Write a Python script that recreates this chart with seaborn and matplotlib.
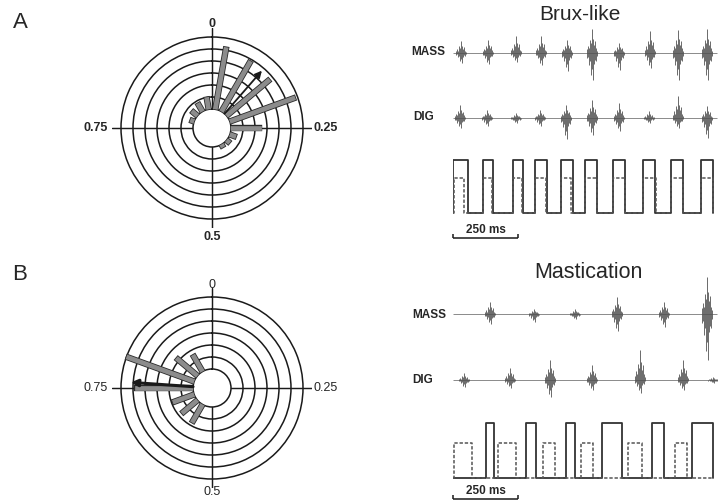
import numpy as np
import matplotlib.pyplot as plt
import matplotlib.patheffects as pe
import seaborn as sns

sns.set_theme(style="white")
plt.rcParams["font.family"] = ["Liberation Sans", "DejaVu Sans"]

W, H = 724, 501

# phase histograms (18 bins of 20 deg, bin centres in degrees)
bin_deg = [10, 30, 50, 70, 90, 110, 130, 150, 170, 190, 210, 230, 250, 270, 290, 310, 330, 350]
brux_counts = [5.05, 4.65, 4.5, 5.6, 2.3, 0.35, 0.15, 0.08, 0, 0, 0, 0, 0, 0, 0.15, 0.42, 0.6, 0.82]
mast_counts = [0, 0, 0, 0, 0, 0, 0, 0, 0, 0, 1.55, 1.5, 1.7, 4.7, 5.8, 2.1, 1.4, 0]
phase_ticks = [0, 90, 180, 270]
phase_labels = ["0", "0.25", "0.5", "0.75"]

# mean vectors (phase, length)
brux_mean = (0.114, 4.75)
mast_mean = (0.761, 5.2)

# EMG bursts: centre (ms), positive peak, negative peak
brux_mass_t = [30, 136, 242, 337, 437, 533, 638, 758, 867, 976]
brux_mass_up = [12, 13, 17, 17, 13, 24, 10, 22, 23, 24]
brux_mass_dn = [10, 11, 9, 12, 18, 27, 17, 15, 27, 27]
brux_dig_t = [27, 132, 242, 335, 435, 533, 638, 755, 867, 976]
brux_dig_up = [13, 8, 5, 8, 13, 18, 15, 7, 22, 12]
brux_dig_dn = [10, 8, 5, 8, 21, 17, 13, 5, 10, 20]

mast_mass_t = [142, 312, 469, 630, 812, 976]
mast_mass_up = [12, 5, 5, 17, 12, 37]
mast_mass_dn = [10, 8, 5, 17, 13, 46]
mast_dig_t = [42, 219, 373, 533, 719, 883, 1001]
mast_dig_up = [7, 12, 20, 15, 30, 20, 3]
mast_dig_dn = [7, 8, 17, 10, 13, 10, 3]

# rectified on/off periods (ms)
brux_mass_on = [1, 117, 230, 315, 414, 508, 617, 732, 838, 953]
brux_mass_off = [59, 155, 271, 360, 463, 553, 662, 777, 886, 1001]
brux_dig_on = [3, 117, 230, 315, 414, 508, 617, 732, 838, 953]
brux_dig_off = [42, 149, 265, 358, 455, 553, 662, 781, 886, 1001]
mast_mass_on = [126, 281, 436, 574, 764, 918]
mast_mass_off = [159, 318, 468, 649, 813, 999]
mast_dig_on = [4, 172, 345, 491, 674, 854]
mast_dig_off = [74, 242, 392, 537, 726, 901]
mass_level = 1.0
brux_dig_level = 0.66
mast_dig_level = 0.64

trace_end = 1015
scale_ms = 250

fig = plt.figure(figsize=(W / 100, H / 100), dpi=100)


def box(x0, y0, x1, y1):
    return [x0 / W, 1 - y1 / H, (x1 - x0) / W, (y1 - y0) / H]


def rose(cx, cy, counts, mean, weight, arrow_lw, lab_dy):
    ax = fig.add_axes(box(cx - 100, cy - 100, cx + 100, cy + 100), projection="polar")
    ax.set_theta_zero_location("N")
    ax.set_theta_direction(-1)
    ax.set_rorigin(-19 / 12)
    ax.set_ylim(0, 6.75)
    ax.set_rgrids([1, 2, 3, 4, 5, 6], labels=[""] * 6)
    ax.set_thetagrids(phase_ticks, labels=[""] * 4)
    ax.tick_params(length=0)
    ax.xaxis.grid(True, color="k", linewidth=1.05)
    ax.yaxis.grid(True, color="k", linewidth=1.1)
    ax.spines["polar"].set_visible(False)
    ax.spines["inner"].set_color("k")
    ax.spines["inner"].set_linewidth(1.1)
    theta = np.deg2rad(bin_deg)
    c = np.array(counts)
    m = c > 0
    ax.vlines(theta[m], 0, c[m], colors="#8c8c8c", linewidth=3.4, capstyle="projecting",
              path_effects=[pe.Stroke(linewidth=4.6, foreground="#2a2a2a"), pe.Normal()], zorder=3)
    ph, ln = mean
    ax.annotate("", xy=(2 * np.pi * ph, ln), xytext=(2 * np.pi * ph, 0),
                arrowprops=dict(arrowstyle="-|>", color="k", lw=arrow_lw, mutation_scale=10,
                                shrinkA=0, shrinkB=0), zorder=4)
    # phase labels around the dial
    kw = dict(fontsize=9, fontweight=weight)
    fig.text(cx / W, 1 - (cy - lab_dy[0]) / H, phase_labels[0], ha="center", va="center", **kw)
    fig.text((cx + 101) / W, 1 - cy / H, phase_labels[1], ha="left", va="center", **kw)
    fig.text(cx / W, 1 - (cy + lab_dy[1]) / H, phase_labels[2], ha="center", va="center", **kw)
    fig.text((cx - 104) / W, 1 - cy / H, phase_labels[3], ha="right", va="center", **kw)
    return ax


def emg(y_mid, half, t, up, dn, width=38):
    ax = fig.add_axes(box(453, y_mid - half, 453 + 1040 * 0.26, y_mid + half))
    ax.set_xlim(0, 1040)
    ax.set_ylim(-half, half)
    ax.axis("off")
    ax.hlines(0, 0, trace_end, color="#8a8a8a", linewidth=0.7)
    frac = np.array([-0.5, -0.4, -0.3, -0.2, -0.1, 0, 0.1, 0.2, 0.3, 0.4, 0.5])
    env_up = np.array([0.15, 0.3, 0.2, 0.55, 0.4, 1.0, 0.6, 0.35, 0.5, 0.2, 0.1])
    env_dn = np.array([0.2, 0.15, 0.45, 0.3, 0.8, 0.6, 1.0, 0.4, 0.25, 0.3, 0.1])
    xs, lo, hi = [], [], []
    for c, u, d in zip(t, up, dn):
        xs += list(c + frac * width)
        hi += list(u * env_up)
        lo += list(-d * env_dn)
    ax.vlines(xs, lo, hi, color="#505050", linewidth=0.7, alpha=0.85)
    return ax


def steps(on, off, level):
    x, y = [0], [0]
    for a, b in zip(on, off):
        x += [a, a, b, b]
        y += [0, level, level, 0]
    x.append(trace_end - 14)
    y.append(0)
    return x, y


def squares(y_base, y_top, y0, y1, m_on, m_off, d_on, d_off, d_level, sb_y, sb_tick):
    ax = fig.add_axes(box(453, y0, 453 + 1040 * 0.26, y1))
    ppu = y_base - y_top
    ax.set_xlim(0, 1040)
    ax.set_ylim((y_base - y1) / ppu, (y_base - y0) / ppu)
    ax.axis("off")
    x, y = steps(m_on, m_off, mass_level)
    sns.lineplot(x=x, y=y, sort=False, estimator=None, ax=ax, color="#333333", linewidth=1.3)
    x, y = steps(d_on, d_off, d_level)
    sns.lineplot(x=x, y=y, sort=False, estimator=None, ax=ax, color="#555555",
                 linewidth=1.1, linestyle=(0, (2.2, 1.2)))
    yb = (y_base - sb_y) / ppu
    tk = sb_tick / ppu
    ax.hlines(yb, 0, scale_ms, color="k", linewidth=1.1, clip_on=False)
    ax.vlines([0, scale_ms], yb, yb + tk, color="k", linewidth=1.1, clip_on=False)
    ax.text(scale_ms / 2, yb + 1.5 / ppu, "250 ms", ha="center", va="bottom",
            fontsize=8.5, fontweight="bold", clip_on=False)
    return ax


# panel A
rose(212, 128, brux_counts, brux_mean, "bold", 1.3, (104, 109))
emg(53, 30, brux_mass_t, brux_mass_up, brux_mass_dn)
emg(118, 30, brux_dig_t, brux_dig_up, brux_dig_dn)
squares(213, 160, 150, 245, brux_mass_on, brux_mass_off, brux_dig_on, brux_dig_off,
        brux_dig_level, 237.5, 4)

# panel B
rose(212, 388, mast_counts, mast_mean, "normal", 2.2, (103, 104))
emg(314, 50, mast_mass_t, mast_mass_up, mast_mass_dn)
emg(380, 35, mast_dig_t, mast_dig_up, mast_dig_dn)
squares(478, 423, 410, 501, mast_mass_on, mast_mass_off, mast_dig_on, mast_dig_off,
        mast_dig_level, 499, 4)

# labels
fig.text(20 / W, 1 - 22 / H, "A", fontsize=16, ha="center", va="center")
fig.text(20 / W, 1 - 275 / H, "B", fontsize=16, ha="center", va="center")
fig.text(580 / W, 1 - 15 / H, "Brux-like", fontsize=15, ha="center", va="center")
fig.text(588 / W, 1 - 272 / H, "Mastication", fontsize=15.5, ha="center", va="center")
fig.text(445 / W, 1 - 52 / H, "MASS", fontsize=8.5, fontweight="bold", ha="right", va="center")
fig.text(413 / W, 1 - 117 / H, "DIG", fontsize=8.5, fontweight="bold", ha="left", va="center")
fig.text(446 / W, 1 - 315 / H, "MASS", fontsize=8.5, fontweight="bold", ha="right", va="center")
fig.text(412 / W, 1 - 380 / H, "DIG", fontsize=8.5, fontweight="bold", ha="left", va="center")

fig.savefig("out.png", dpi=100)
